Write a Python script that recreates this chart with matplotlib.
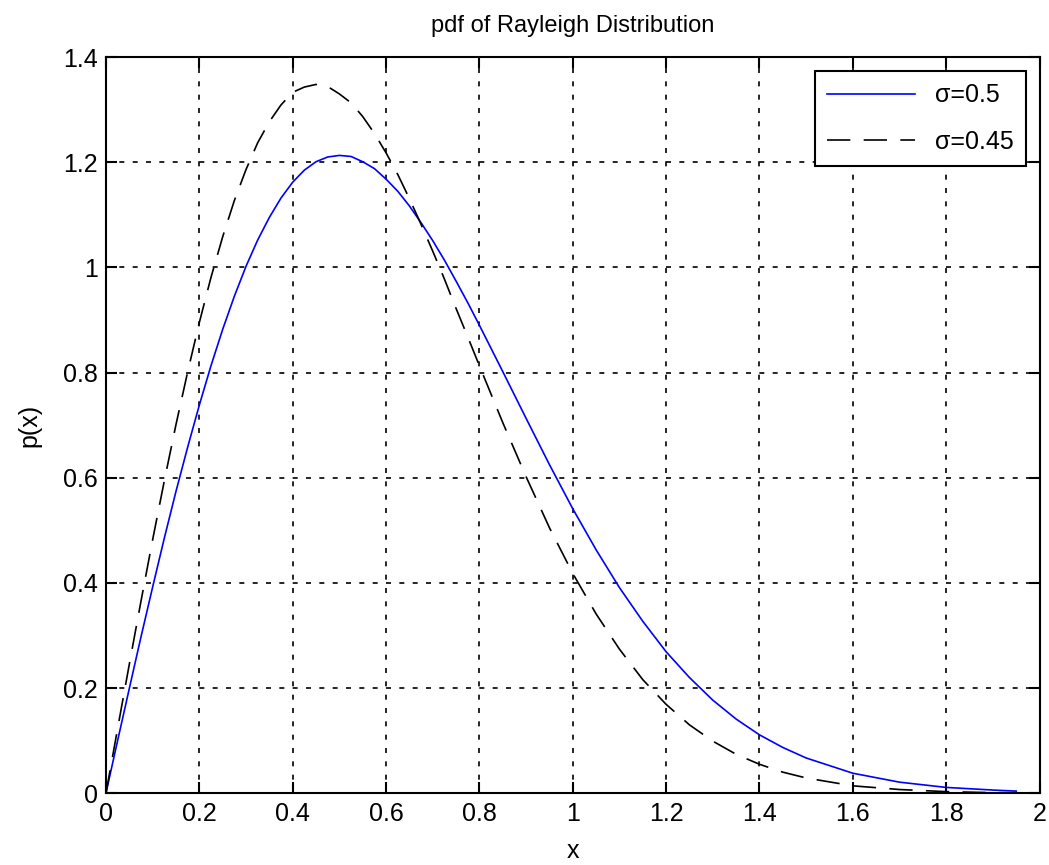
import numpy as np
import matplotlib.pyplot as plt

plt.rcParams['font.family'] = ['Liberation Sans', 'DejaVu Sans']

# values
x = [0.0, 0.025, 0.05, 0.075, 0.1, 0.125, 0.15, 0.175, 0.2, 0.225, 0.25, 0.275,
     0.3, 0.325, 0.35, 0.375, 0.4, 0.425, 0.45, 0.475, 0.5, 0.525, 0.55, 0.575,
     0.6, 0.625, 0.65, 0.675, 0.7, 0.725, 0.75, 0.775, 0.8, 0.825, 0.85,
     0.9, 0.95, 1.0, 1.05, 1.1, 1.15, 1.2, 1.25, 1.3, 1.35,
     1.4, 1.45, 1.5, 1.6, 1.7, 1.8, 1.9, 1.95]
p_050 = [0.0, 0.100, 0.199, 0.297, 0.392, 0.485, 0.574, 0.658, 0.738, 0.813, 0.882, 0.945,
         1.002, 1.052, 1.095, 1.132, 1.162, 1.185, 1.201, 1.210, 1.213, 1.211, 1.201, 1.188,
         1.168, 1.145, 1.117, 1.085, 1.051, 1.014, 0.974, 0.933, 0.890, 0.846, 0.802,
         0.713, 0.625, 0.541, 0.463, 0.391, 0.327, 0.269, 0.220, 0.177, 0.141,
         0.111, 0.087, 0.067, 0.038, 0.021, 0.011, 0.006, 0.004]
p_045 = [0.0, 0.123, 0.245, 0.365, 0.482, 0.594, 0.701, 0.801, 0.895, 0.981, 1.058, 1.127,
         1.186, 1.237, 1.277, 1.309, 1.333, 1.343, 1.348, 1.344, 1.330, 1.313, 1.287, 1.255,
         1.218, 1.177, 1.131, 1.082, 1.031, 0.978, 0.922, 0.868, 0.813, 0.759, 0.705,
         0.602, 0.505, 0.418, 0.341, 0.274, 0.216, 0.169, 0.130, 0.099, 0.074,
         0.055, 0.040, 0.029, 0.014, 0.007, 0.003, 0.001, 0.001]
labels = ['σ=0.5', 'σ=0.45']

xticks = np.arange(0, 2.01, 0.2)
yticks = np.arange(0, 1.41, 0.2)

fig = plt.figure(figsize=(10.49, 8.65), dpi=100)
ax = fig.add_axes([0.101, 0.083, 0.89, 0.851])

ax.plot(x, p_050, color='blue', lw=1.2, label=labels[0])
ax.plot(x, p_045, color='black', lw=1.2, dashes=(14, 8), label=labels[1])

ax.set_xlim(0, 2)
ax.set_ylim(0, 1.4)
ax.set_xticks(xticks)
ax.set_yticks(yticks)
ax.set_xticklabels(['0', '0.2', '0.4', '0.6', '0.8', '1', '1.2', '1.4', '1.6', '1.8', '2'])
ax.set_yticklabels(['0', '0.2', '0.4', '0.6', '0.8', '1', '1.2', '1.4'])
ax.tick_params(direction='in', length=8, width=1.5, labelsize=18, top=True, right=True,
               pad=6)
ax.grid(True, color='black', linestyle=(0, (3, 5)), linewidth=1.2)
for s in ax.spines.values():
    s.set_linewidth(1.5)

ax.set_xlabel('x', fontsize=18, labelpad=10)
ax.set_ylabel('p(x)', fontsize=18, labelpad=15)
ax.set_title('pdf of Rayleigh Distribution', fontsize=17, pad=18)

leg = ax.legend(loc='upper right', fontsize=18, fancybox=False, framealpha=1,
                edgecolor='black', handlelength=3.5, borderaxespad=0.55,
                labelspacing=0.9, borderpad=0.5)
leg.get_frame().set_linewidth(1.5)

fig.savefig('out.png', dpi=100)
